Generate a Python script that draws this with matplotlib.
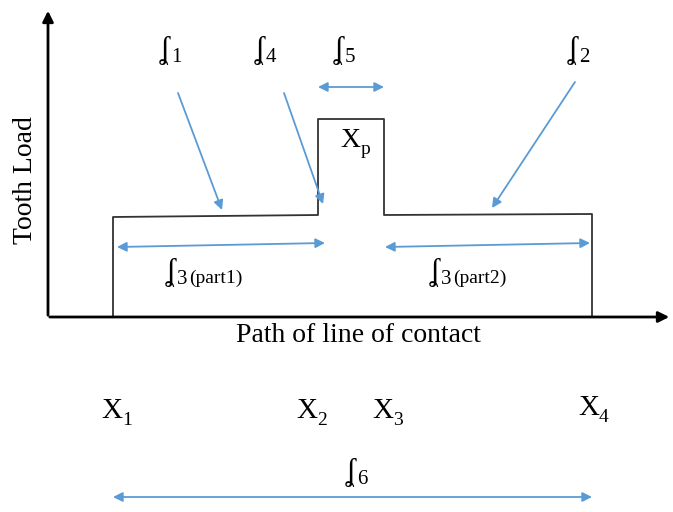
import matplotlib
matplotlib.use("Agg")
import matplotlib.pyplot as plt

# ---- data (pixel-like diagram coordinates, y grows downward) ----
contact_x = [113, 318, 384, 592]          # X1, X2, X3, X4
base_load = [217, 214]                    # load level left / right of the bump
peak_load = 119                           # load level at pitch point zone
axis_origin = (48, 317)
point_labels = ["1", "2", "3", "4"]

BLUE = "#5B9BD5"
FONT = ["Liberation Serif", "DejaVu Serif"]

fig = plt.figure(figsize=(6.73, 5.12), dpi=100)
ax = fig.add_axes([0, 0, 1, 1])
ax.set_xlim(0, 673)
ax.set_ylim(512, 0)
ax.axis("off")

ox, oy = axis_origin
# axes
ax.annotate("", xy=(ox, 8), xytext=(ox, oy + 1),
            arrowprops=dict(arrowstyle="-|>", color="black", lw=2, mutation_scale=16))
ax.annotate("", xy=(672, oy), xytext=(ox - 1, oy),
            arrowprops=dict(arrowstyle="-|>", color="black", lw=2, mutation_scale=16))

# step load curve
x1, x2, x3, x4 = contact_x
xs = [x1, x1, x2, x2, x3, x3, x4, x4]
ys = [oy, base_load[0], base_load[1] + 1, peak_load, peak_load, base_load[1] + 1, base_load[1], oy]
ax.plot(xs, ys, color="#333333", lw=1.3)

def arrow(p0, p1, both=False):
    ax.annotate("", xy=p1, xytext=p0,
                arrowprops=dict(arrowstyle="<|-|>" if both else "-|>", color=BLUE,
                                lw=1.3, mutation_scale=14, shrinkA=0, shrinkB=0))

arrow((178, 93), (222, 210))
arrow((284, 93), (323, 204))
arrow((575, 82), (492, 208))
arrow((x2, 87), (x3, 87), both=True)
arrow((x1 + 4, 247), (x2 + 7, 243), both=True)
arrow((x3 + 1, 247), (x4 - 2, 243), both=True)
arrow((x1, 497), (x4, 497), both=True)

def sym(x, y, sub, subsize=15, mainsize=22):
    ax.text(x, y - 4, "ʆ", fontsize=mainsize, family=FONT, ha="left", va="baseline")
    ax.text(x + 11, y, sub, fontsize=subsize, family=FONT, ha="left", va="baseline")

sym(160, 62, "1")
sym(255, 62, "4")
sym(334, 62, "5")
sym(568, 62, "2")
sym(430, 284, "3")
ax.text(453, 283, "(part2)", fontsize=14, family=FONT, ha="left", va="baseline")
sym(166, 284, "3")
ax.text(189, 283, "(part1)", fontsize=14, family=FONT, ha="left", va="baseline")
sym(346, 484, "6")

def xlab(x, y, sub, size=21, subsize=14):
    ax.text(x, y, "X", fontsize=size, family=FONT, ha="left", va="baseline")
    ax.text(x + 21, y + 7, sub, fontsize=subsize, family=FONT, ha="left", va="baseline")

xlab(340, 147, "p", size=20)
label_pos = [(101, 418), (296, 418), (372, 418), (578, 415)]
for (lx, ly), s in zip(label_pos, point_labels):
    xlab(lx, ly, s)

ax.text(358, 336, "Path of line of contact", fontsize=20, family=FONT,
        ha="center", va="center")
ax.text(26, 180, "Tooth Load", fontsize=20, family=FONT, rotation=90,
        ha="center", va="center")

fig.savefig("out.png", dpi=100)
